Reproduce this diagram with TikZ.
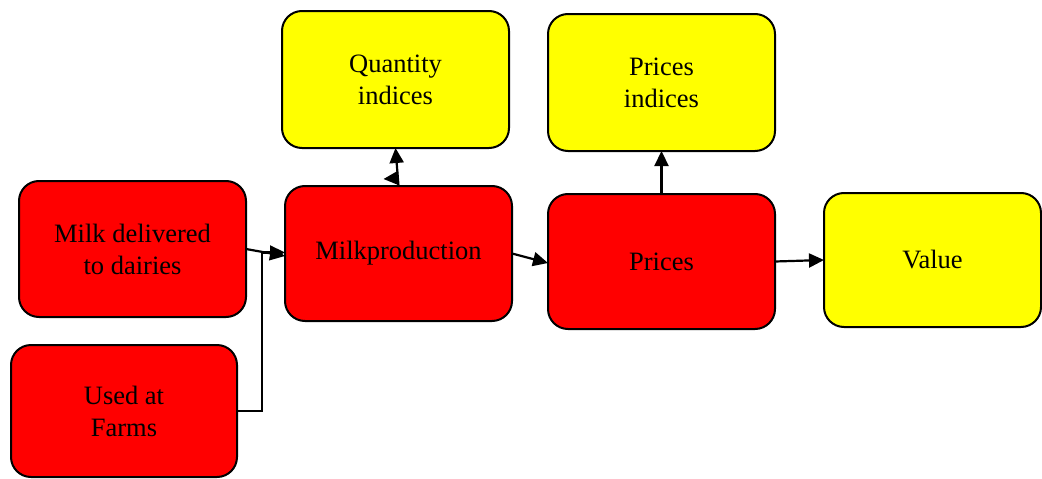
\documentclass[tikz,border=0pt]{standalone}
\usepackage{fontspec}
\setmainfont{Liberation Serif}
\usetikzlibrary{arrows.meta}
\begin{document}
\begin{tikzpicture}[x=1pt,y=-1pt,
  box/.style={draw=black,line width=2pt,rounded corners=20pt,inner sep=0pt,outer sep=0pt,
    minimum width=227pt,minimum height=136pt,align=center,
    font=\fontsize{26.5}{32}\selectfont},
  redbox/.style={box,fill=red},
  yelbox/.style={box,fill={rgb,255:red,255;green,255;blue,0}},
  arr/.style={line width=2.2pt,-{Triangle[length=15pt,width=14pt]}}]
\useasboundingbox (0,0) rectangle (1042,479);
\node[redbox] (md) at (132.5,249) {Milk delivered\\to dairies};
\node[redbox,minimum width=226pt,minimum height=132pt] (uf) at (124,411) {Used at\\Farms};
\node[redbox,minimum height=135pt] (mp) at (398.5,253.5) {Milkproduction};
\node[yelbox,minimum height=137pt] (qi) at (395.5,79.5) {Quantity\\indices};
\node[yelbox,minimum height=137pt] (pi) at (661.5,82.5) {Prices\\indices};
\node[redbox,minimum height=135pt] (pr) at (661.5,261.5) {Prices};
\node[yelbox,minimum width=217pt,minimum height=134pt] (val) at (932.5,260) {Value};
\draw[arr] (md.east) -- ([yshift=-2.5pt]mp.west);
\draw[arr] (uf.east) -- ++(25,0) |- ([yshift=1pt]mp.west);
\draw[arr] (mp.east) -- ([yshift=-1.5pt]pr.west);
\draw[arr] (pr.east) -- (val.west);
\draw[arr] (pr.north) -- (pi.south);
\draw[arr] (mp.north) -- (qi.south);
\draw[arr] ([yshift=8pt]mp.north) -- ++(-15,1);
\end{tikzpicture}
\end{document}
